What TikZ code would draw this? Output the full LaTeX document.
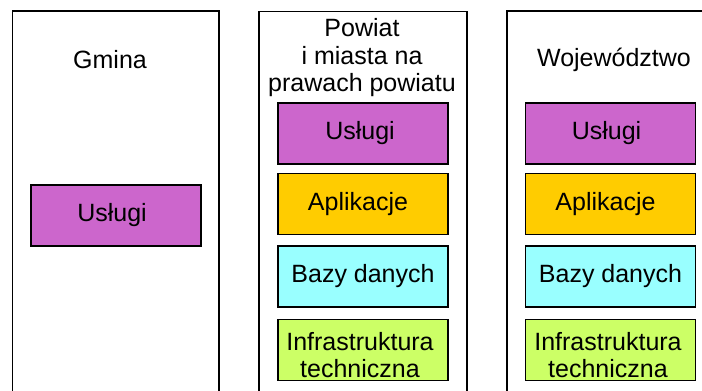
\documentclass[tikz,border=0pt]{standalone}
\usepackage{fontspec}
\setmainfont{Liberation Sans}
\begin{document}
\begin{tikzpicture}[x=1pt,y=-1pt,
  panel/.style={draw=black,line width=1.6pt},
  layer/.style={draw=black,line width=1.8pt,minimum width=170pt,minimum height=61pt,inner sep=0pt,align=center,font=\fontsize{25}{25}\selectfont},
  ptitle/.style={align=center,font=\fontsize{25}{27.5}\selectfont,inner sep=0pt},
  usl/.style={layer,fill=uslc},
  apl/.style={layer,fill=aplc},
  baz/.style={layer,fill=bazc},
  inf/.style={layer,fill=infc,font=\fontsize{25}{27}\selectfont}]
\definecolor{uslc}{HTML}{CC66CC}
\definecolor{aplc}{HTML}{FFCC00}
\definecolor{bazc}{HTML}{99FFFF}
\definecolor{infc}{HTML}{CCFF66}
\clip (0,0) rectangle (702,391);
\fill[white] (0,0) rectangle (702,391);
% panels
\draw[panel] (12.5,420) -- (12.5,11) -- (219,11) -- (219,420);
\draw[panel] (259,420) -- (259,11.5) -- (467,11.5) -- (467,420);
\draw[panel] (507,420) -- (507,11) -- (720,11) -- (720,420);
% titles
\node[ptitle] (t1) at (110,60) {Gmina};
\node[ptitle] (t2) at (362,58) {Powiat\\i miasta na\\prawach powiatu};
\node[ptitle] (t3) at (614,60) {Województwo};
% column 1
\node[usl] (u1) at (116,215.5) {\hspace*{-8pt}Usługi};
% column 2
\node[usl] (u2) at (363,133.5) {\hspace*{-6pt}Usługi};
\node[apl] (a2) at (363,204) {\hspace*{-10pt}Aplikacje};
\node[baz] (b2) at (363,276.5) {Bazy danych};
\node[inf,text height=0pt] (i2) at (363,350) {};
\node[ptitle,font=\fontsize{25}{27}\selectfont] (i2t) at (360,355.5) {Infrastruktura\\techniczna};
% column 3
\node[usl] (u3) at (610.5,133.5) {\hspace*{-8pt}Usługi};
\node[apl] (a3) at (610.5,204) {\hspace*{-10pt}Aplikacje};
\node[baz] (b3) at (610.5,276.5) {Bazy danych};
\node[inf,text height=0pt] (i3) at (610.5,350) {};
\node[ptitle,font=\fontsize{25}{27}\selectfont] (i3t) at (608,355.5) {Infrastruktura\\techniczna};
\end{tikzpicture}
\end{document}
